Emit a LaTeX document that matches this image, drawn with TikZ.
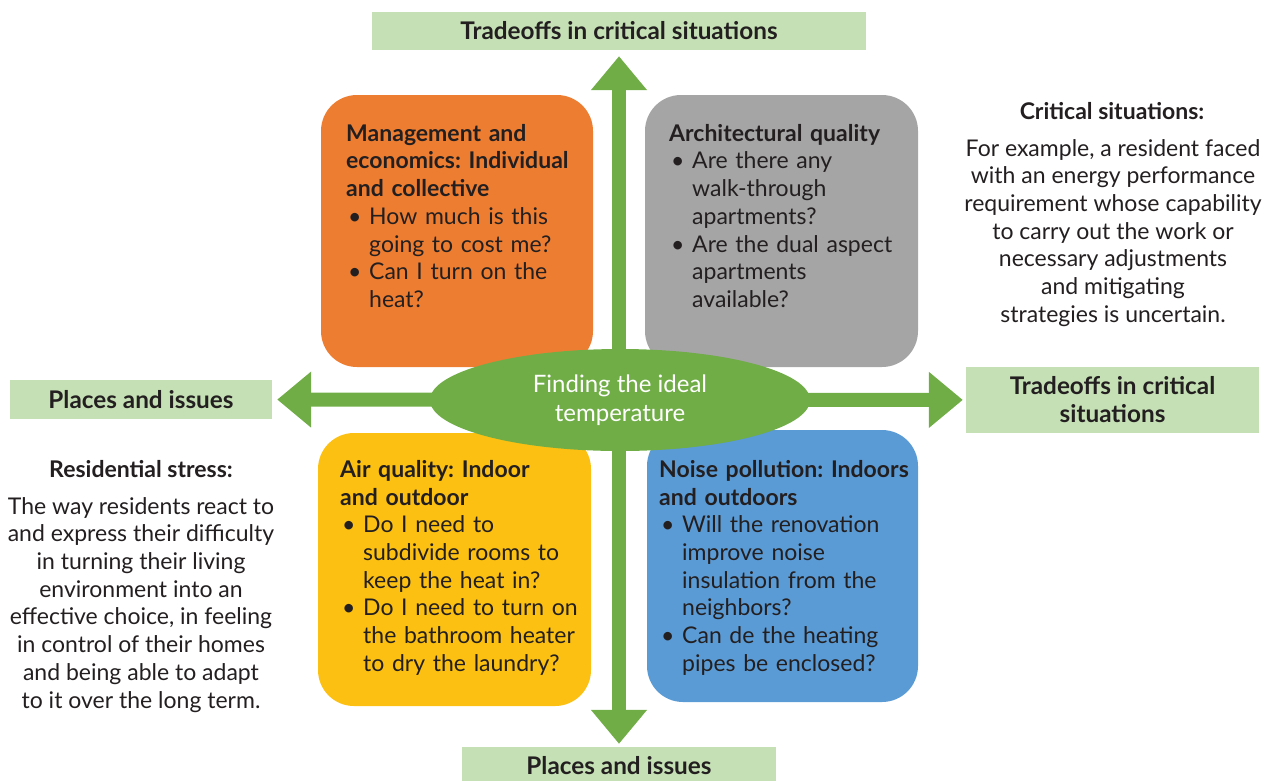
\documentclass[tikz,border=0pt]{standalone}
\usepackage{fontspec}
\setmainfont{Lato}
\usetikzlibrary{arrows.meta,shapes.geometric}
\definecolor{leaf}{HTML}{70AD47}
\definecolor{pale}{HTML}{C5E0B4}
\definecolor{rust}{HTML}{ED7D31}
\definecolor{stone}{HTML}{A5A5A5}
\definecolor{sun}{HTML}{FBC012}
\definecolor{sky}{HTML}{5B9BD5}
\definecolor{ink}{HTML}{231F20}
\newcommand{\fsz}{\fontsize{23}{27.7}\selectfont\frenchspacing\parindent=0pt\parskip=0pt}
\newcommand{\tsz}{\fontsize{24.3}{28}\selectfont\frenchspacing}
\newcommand{\qi}{\par\hangindent=23pt\hangafter=1\leavevmode\hbox to 23pt{\hskip2pt\textbullet\hfil}}

\begin{document}
\begin{tikzpicture}[
      x=1pt, y=-1pt, %pixel units, y downwards
      tag/.style={fill=pale, font=\tsz\bfseries, text=ink, align=center, inner sep=0pt},
      quad/.style={rounded corners=36pt, inner sep=0pt},
      qtext/.style={anchor=north west, inner sep=0pt, text width=265pt, align=left, font=\fsz, text=ink},
      side/.style={inner sep=0pt, align=center, font=\fsz, text=ink},
      flow/.style={draw=leaf, line width=14pt, {Triangle[width=54pt,length=34pt]}-{Triangle[width=54pt,length=34pt]}}
    ]
    \useasboundingbox (0,0) rectangle (1271,780);
    % the four tags
    \node[tag, minimum width=494pt, minimum height=38pt] (north) at (619,31) {Tradeoffs in critical situations};
    \node[tag, minimum width=314pt, minimum height=38pt] (south) at (619,766) {Places and issues};
    \node[tag, minimum width=262pt, minimum height=39pt] (west) at (141,399.5) {Places and issues};
    \node[tag, minimum width=293pt, minimum height=66pt] (east) at (1112.5,400) {Tradeoffs in critical\\situations};
    % the axes
    \draw[flow, shorten <=5pt, shorten >=3pt] (west) -- (east);
    \draw[flow, shorten <=6pt, shorten >=3pt] (north) -- (south);
    % the quadrants
    \node[quad, fill=rust, minimum width=272pt, minimum height=272pt] (mgmt) at (457,231) {};
    \node[quad, fill=stone, minimum width=273pt, minimum height=272pt] (arch) at (781.5,231) {};
    \node[quad, fill=sun, minimum width=273pt, minimum height=273pt] (air) at (454.5,569.5) {};
    \node[quad, fill=sky, minimum width=271pt, minimum height=272pt] (noise) at (782.5,566) {};
    \node[qtext] (mgmttxt) at (346,124) {\textbf{Management and\newline economics: Individual\newline and collective}%
      \qi How much is this\newline going to cost me?\qi Can I turn on the\newline heat?\par};
    \node[qtext] (archtxt) at (669,124) {\textbf{Architectural quality}%
      \qi Are there any\newline walk-through\newline apartments?\qi Are the dual aspect\newline apartments\newline available?\par};
    \node[qtext] (airtxt) at (340,460) {\textbf{Air quality: Indoor\newline and outdoor}%
      \qi Do I need to\newline subdivide rooms to\newline keep the heat in?\qi Do I need to turn on\newline the bathroom heater\newline to dry the laundry?\par};
    \node[qtext] (noisetxt) at (659,460) {\textbf{Noise pollution: Indoors\newline and outdoors}%
      \qi Will the renovation\newline improve noise\newline insulation from the\newline neighbors?\qi Can de the heating\newline pipes be enclosed?\par};
    % the hub
    \node[ellipse, fill=leaf, minimum width=380pt, minimum height=102pt, inner sep=0pt,
      font=\fontsize{24}{29}\selectfont, text=white, align=center] (hub) at (620,400) {Finding the ideal\\temperature};
    % side notes
    \node[side, font=\fsz\bfseries, anchor=base] (crit) at (1112,119) {Critical situations:};
    \node[side, anchor=north] (crittxt) at (1113,139) {For example, a resident faced\\with an energy performance\\requirement whose capability\\to carry out the work or\\necessary adjustments\\and mitigating\\strategies is uncertain.};
    \node[side, font=\fsz\bfseries, anchor=base] (stress) at (141,477) {Residential stress:};
    \node[side, anchor=north] (stresstxt) at (141,497) {The way residents react to\\and express their difficulty\\in turning their living\\environment into an\\effective choice, in feeling\\in control of their homes\\and being able to adapt\\to it over the long term.};
\end{tikzpicture}
\end{document}
